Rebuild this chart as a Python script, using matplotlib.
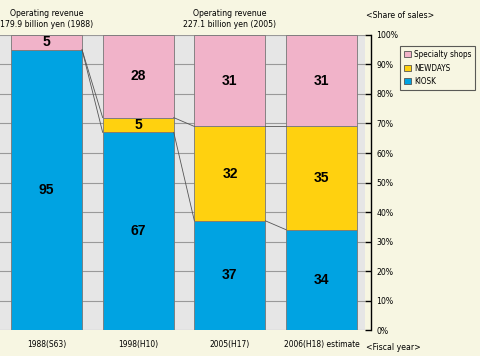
import matplotlib
matplotlib.use('Agg')
import matplotlib.pyplot as plt
from matplotlib.patches import Patch
from matplotlib import font_manager

years = ['1988(S63)', '1998(H10)', '2005(H17)', '2006(H18) estimate']
kiosk = [95, 67, 37, 34]
newdays = [0, 5, 32, 35]
specialty = [5, 28, 31, 31]
series_names = ['Specialty shops', 'NEWDAYS', 'KIOSK']
revenue_notes = ['Operating revenue\n179.9 billion yen (1988)',
                 'Operating revenue\n227.1 billion yen (2005)']
revenue_idx = [0, 2]

c_pink = '#F1B3C9'
c_yellow = '#FFD10F'
c_blue = '#00A3E2'
c_bg = '#F7F6E2'
c_gray = '#E6E6E6'

# pick a narrow font if one is there
names = {f.name for f in font_manager.fontManager.ttflist}
if 'Liberation Sans Narrow' in names:
    plt.rcParams['font.family'] = ['Liberation Sans Narrow', 'DejaVu Sans']
else:
    plt.rcParams['font.family'] = ['DejaVu Sans']
    plt.rcParams['font.stretch'] = 'condensed'
bold_font = ['Liberation Sans', 'DejaVu Sans']

fig = plt.figure(figsize=(4.8, 3.56), dpi=100, facecolor=c_bg)
ax = fig.add_axes([0, 0.073, 365 / 480, 0.8287])
ax.set_facecolor(c_gray)

x = list(range(len(years)))
w = 0.775

ax.bar(x, kiosk, w, color=c_blue, edgecolor='#777777', linewidth=0.6, zorder=3)
ax.bar(x, newdays, w, bottom=kiosk, color=c_yellow, edgecolor='#777777', linewidth=0.6, zorder=3)
bottoms = [k + n for k, n in zip(kiosk, newdays)]
ax.bar(x, specialty, w, bottom=bottoms, color=c_pink, edgecolor='#777777', linewidth=0.6, zorder=3)

# connector lines between bars
for i in range(len(x) - 1):
    for a, b in [(kiosk[i], kiosk[i + 1]), (bottoms[i], bottoms[i + 1])]:
        ax.plot([x[i] + w / 2, x[i + 1] - w / 2], [a, b], color='#555555', lw=0.6, zorder=4)

# value labels
for i in x:
    segs = [(kiosk[i] / 2, kiosk[i]),
            (kiosk[i] + newdays[i] / 2, newdays[i]),
            (bottoms[i] + specialty[i] / 2, specialty[i])]
    for y, v in segs:
        if v:
            ax.text(i, y, str(v), ha='center', va='center', fontsize=10,
                    fontweight='bold', family=bold_font, zorder=5)

ax.set_xlim(-0.507, 3.473)
ax.set_ylim(0, 100)
ax.set_yticks(range(0, 101, 10))
ax.yaxis.grid(True, color='#999999', lw=0.8, zorder=0)
ax.set_axisbelow(True)

ax.yaxis.tick_right()
ax.set_yticklabels([f'{v}%' for v in range(0, 101, 10)])
ax.tick_params(axis='y', direction='in', length=4, width=1, pad=4, right=True, left=False,
               labelsize=6.2)
for s in ['top', 'left', 'bottom']:
    ax.spines[s].set_visible(False)
ax.spines['right'].set_position(('outward', 4))
ax.spines['right'].set_linewidth(1)

ax.set_xticks(x)
ax.set_xticklabels(years)
ax.tick_params(axis='x', length=0, pad=7, labelsize=6)

for i, note in zip(revenue_idx, revenue_notes):
    ax.text(i, 102, note, ha='center', va='bottom', fontsize=6.2,
            linespacing=1.25, clip_on=False)

fig.text(366 / 480, 1 - 15 / 356, '<Share of sales>', ha='left', va='center', fontsize=6.2)
fig.text(366 / 480, 1 - 347 / 356, '<Fiscal year>', ha='left', va='center', fontsize=6.2)

handles = [Patch(facecolor=c, edgecolor='#555555', lw=0.6) for c in [c_pink, c_yellow, c_blue]]
leg = fig.legend(handles, series_names, loc='upper left', bbox_to_anchor=(400 / 480, 1 - 46 / 356),
                 fontsize=5.9, frameon=True, fancybox=False, handlelength=0.8, handleheight=0.8,
                 handletextpad=0.4, labelspacing=0.55, borderpad=0.5, borderaxespad=0)
leg.get_frame().set_edgecolor('#333333')
leg.get_frame().set_facecolor(c_bg)
leg.get_frame().set_linewidth(0.8)

fig.savefig('out.png', dpi=100, facecolor=c_bg)
